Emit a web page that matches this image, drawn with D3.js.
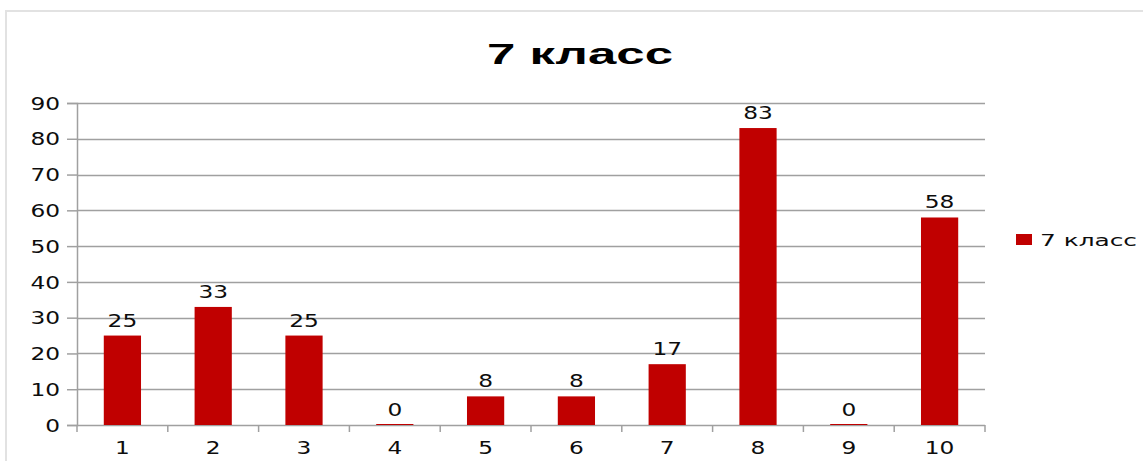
<!DOCTYPE html>
<html>
<head>
<meta charset="utf-8">
<script src="https://cdn.jsdelivr.net/npm/d3@7"></script>
<style>
  html, body { margin: 0; padding: 0; background: #fff; }
  svg { display: block; font-family: "DejaVu Sans", Verdana, sans-serif; }
</style>
</head>
<body>
<svg id="chart" width="1143" height="461"></svg>
<script>
// Results by task number, 7th grade
const chartTitle = "7 класс";
const seriesName = "7 класс";
const categories = ["1", "2", "3", "4", "5", "6", "7", "8", "9", "10"];
const values = [25, 33, 25, 0, 8, 8, 17, 83, 0, 58];
const yTicks = [0, 10, 20, 30, 40, 50, 60, 70, 80, 90];

const barColor = "#c00000";
const gridColor = "#a0a0a0";
const textColor = "#0d0d0d";
const digitWidth = 14.8;

const svg = d3.select("#chart");
const plot = { left: 77, right: 985, top: 103, bottom: 425 };

// wide numerals: fixed advance per character
function widen(sel) {
  sel.each(function () {
    const t = d3.select(this);
    t.attr("textLength", t.text().length * digitWidth).attr("lengthAdjust", "spacingAndGlyphs");
  });
}

// outer chart frame
svg.append("rect")
  .attr("x", 6).attr("y", 11).attr("width", 1160).attr("height", 470)
  .attr("fill", "none").attr("stroke", "#e2e2e2").attr("stroke-width", 2);

const x = d3.scaleBand().domain(categories).range([plot.left, plot.right]).paddingInner(0).paddingOuter(0);
const y = d3.scaleLinear().domain([0, 90]).range([plot.bottom, plot.top]);

// horizontal gridlines
svg.append("g")
  .selectAll("line")
  .data(yTicks.filter(d => d > 0))
  .join("line")
  .attr("x1", plot.left).attr("x2", plot.right)
  .attr("y1", d => Math.round(y(d)) + 0.5).attr("y2", d => Math.round(y(d)) + 0.5)
  .attr("stroke", gridColor).attr("stroke-width", 1.5);

// y axis
const yAxis = svg.append("g")
  .attr("transform", `translate(${plot.left},0)`)
  .call(d3.axisLeft(y).tickValues(yTicks).tickSize(10).tickPadding(7));
yAxis.select(".domain").attr("stroke", gridColor).attr("stroke-width", 1.5);
yAxis.selectAll(".tick line").attr("stroke", gridColor).attr("stroke-width", 1.5);
yAxis.selectAll(".tick text")
  .attr("font-size", 17).attr("fill", textColor)
  .attr("font-family", "DejaVu Sans, Verdana, sans-serif")
  .attr("dy", "0.36em");
widen(yAxis.selectAll(".tick text"));

// x axis: ticks at category boundaries
const xAxisG = svg.append("g").attr("transform", `translate(0,${plot.bottom})`);
xAxisG.append("line")
  .attr("x1", plot.left).attr("x2", plot.right)
  .attr("y1", 0.5).attr("y2", 0.5)
  .attr("stroke", gridColor).attr("stroke-width", 1.5);
const boundaries = categories.map(c => x(c)).concat([x(categories[categories.length - 1]) + x.bandwidth()]);
xAxisG.selectAll("line.tk")
  .data(boundaries)
  .join("line").attr("class", "tk")
  .attr("x1", d => d).attr("x2", d => d)
  .attr("y1", 0).attr("y2", 7)
  .attr("stroke", gridColor).attr("stroke-width", 1.5);
const xLabels = xAxisG.selectAll("text")
  .data(categories)
  .join("text")
  .attr("x", d => x(d) + x.bandwidth() / 2)
  .attr("y", 29)
  .attr("text-anchor", "middle")
  .attr("font-size", 17).attr("fill", textColor)
  .text(d => d);
widen(xLabels);

// bars
const barW = x.bandwidth() * 0.41;
svg.append("g")
  .selectAll("rect")
  .data(values)
  .join("rect")
  .attr("x", (d, i) => x(categories[i]) + (x.bandwidth() - barW) / 2)
  .attr("y", d => y(d) - (d === 0 ? 1 : 0))
  .attr("width", barW)
  .attr("height", d => Math.max(1, y(0) - y(d)))
  .attr("fill", barColor);

// value labels
const vLabels = svg.append("g")
  .selectAll("text")
  .data(values)
  .join("text")
  .attr("x", (d, i) => x(categories[i]) + x.bandwidth() / 2)
  .attr("y", d => y(d) - 9)
  .attr("text-anchor", "middle")
  .attr("font-size", 17).attr("fill", textColor)
  .text(d => d);
widen(vLabels);

// title
const title = svg.append("text")
  .attr("x", 580).attr("y", 64)
  .attr("text-anchor", "middle")
  .attr("font-family", "Liberation Sans, Arial, sans-serif")
  .attr("font-size", 29).attr("font-weight", "bold").attr("fill", "#000")
  .text(chartTitle);
title.attr("textLength", 186).attr("lengthAdjust", "spacingAndGlyphs");

// legend
const legend = svg.append("g");
legend.append("rect")
  .attr("x", 1016).attr("y", 234).attr("width", 16).attr("height", 11)
  .attr("fill", barColor);
const legText = legend.append("text")
  .attr("x", 1040).attr("y", 245.5)
  .attr("font-size", 16).attr("fill", textColor)
  .text(seriesName);
legText.attr("textLength", 97).attr("lengthAdjust", "spacingAndGlyphs");
</script>
</body>
</html>
